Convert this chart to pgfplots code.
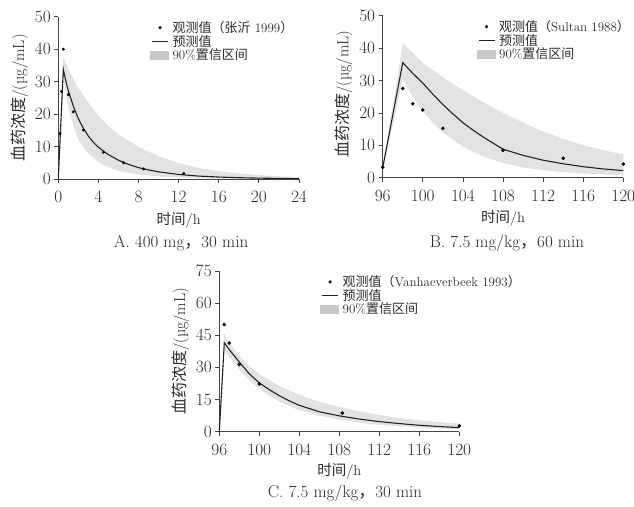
\documentclass[border=0pt]{standalone}
\usepackage{fontspec}
\usepackage{pgfplots}
\usepackage{pgfplotstable}
\pgfplotsset{compat=1.18}
\newfontfamily\cjk{Noto Sans CJK SC}
\definecolor{txt}{HTML}{2A2A2A}
\definecolor{axc}{HTML}{444444}
\definecolor{band}{HTML}{E2E2E2}
\definecolor{swatch}{HTML}{C8C8C8}
\definecolor{lin}{HTML}{222222}

\pgfplotsset{
  panel/.style={
    scale only axis,
    axis lines=left,
    axis line style={-, color=axc, line width=0.8pt},
    tick align=outside,
    major tick length=4pt,
    tick style={color=axc, line width=0.8pt},
    minor tick num=0,
    tick label style={font=\fontsize{16}{18}\selectfont, color=txt},
    xticklabel style={yshift=-5pt},
    every axis x label/.style={at={(axis description cs:0.5,0)}, anchor=center, yshift=-41pt, font=\fontsize{14.5}{16}\selectfont, color=txt},
    every axis y label/.style={at={(axis description cs:0,0.5)}, xshift=-39pt, anchor=center, rotate=90, font=\fontsize{16}{18}\selectfont, color=txt},
    xlabel={{\cjk 时间}/h},
    ylabel={{\cjk 血药浓度}/(\textmu g/mL)},
    legend cell align=left,
    legend style={draw=none, fill=none, inner sep=0pt, outer sep=0pt,
      font=\fontsize{13}{14}\selectfont, text=txt,
      nodes={inner sep=0.6pt},
      row sep=0pt},
    clip=false,
  },
  ldot/.style={legend image code/.code={\fill[black] (8pt,0pt) circle (1.4pt); \path[draw=none,fill=none] (-2pt,0pt) -- (20pt,0pt);}},
  lline/.style={legend image code/.code={\draw[line width=1.1pt, color=lin] (0pt,0pt) -- (16pt,0pt); \path[draw=none,fill=none] (-2pt,0pt) -- (20pt,0pt);}},
  lband/.style={legend image code/.code={\fill[swatch, draw=none] (-2pt,-4.5pt) rectangle (17pt,4.5pt); \path[draw=none,fill=none] (-2pt,0pt) -- (20pt,0pt);}},
}

% ---------- Panel A data ----------
\pgfplotstableread{
t c
0 0
0.5 33.8
0.75 30.2
1 27.2
1.5 22.4
2 18.6
2.5 15.6
3 13.2
3.5 11.3
4 9.8
4.5 8.6
5 7.5
6 5.8
7 4.5
8 3.5
9 2.8
10 2.2
12 1.4
14 0.9
16 0.6
18 0.4
20 0.27
22 0.18
24 0.12
}\predA
% band: upper bound forward, then lower bound backward
\pgfplotstableread{
t c
0 0
0.5 37.5
1 34
1.5 31
2 28
3 23.5
4 19.5
5 16.3
6 13.7
8 9.9
10 7.0
12 4.9
14 3.4
16 2.4
18 1.7
20 1.2
22 0.8
24 0.55
24 0.02
20 0.05
16 0.15
12 0.45
10 0.8
8 1.4
6 2.5
5 3.6
4 5.2
3 7.8
2 12
1.5 16.5
1 22
0.5 31
0 0
}\bandA
\pgfplotstableread{
t c
0.17 14
0.33 27
0.5 40
1 26
1.5 20.7
2.5 15.1
4.5 8.2
6.5 5.0
8.5 3.1
12.5 1.7
}\obsA

% ---------- Panel B data ----------
\pgfplotstableread{
t c
96 3
98 35.5
99 32.2
100 29.2
101 25.8
102 22.6
103 19.7
104 17.0
105 14.7
106 12.6
107 10.7
108 8.8
110 6.9
112 5.4
114 4.3
116 3.4
118 2.7
120 2.2
}\predB
\pgfplotstableread{
t c
96 3.8
97 22
98 41.5
99 38.5
100 35.5
102 31
104 27
106 23.3
108 20
110 17
112 14.2
114 12
116 10
118 8.5
120 7.2
120 0.8
118 1.0
116 1.3
114 1.7
112 2.3
110 3.2
108 4.5
106 6.6
104 9.6
102 14
101 17
100 20.5
99 25
98 30.5
97 16
96 2.5
}\bandB
\pgfplotstableread{
t c
96 3.2
98 27.5
99 22.8
100 20.9
102 15.2
108 8.5
114 6.0
120 4.2
}\obsB

% ---------- Panel C data ----------
\pgfplotstableread{
t c
96 0
96.5 41.5
97 38.3
98 32.5
99 27
100 22.8
101 19.6
102 16.8
103 14.4
104 12.3
106 9.3
108 7.4
110 5.9
112 4.7
114 3.8
116 3.0
118 2.4
120 1.9
}\predC
\pgfplotstableread{
t c
96 0
96.5 46
97 41.5
98 35.5
99 30.5
100 26.8
102 21.5
104 17.2
106 14
108 11.6
110 9.5
112 7.8
114 6.4
116 5.3
118 4.5
120 3.8
120 1.2
118 1.5
116 1.9
114 2.5
112 3.2
110 4.2
108 5.6
106 7.5
104 10
102 14
100 20
99 24
98 29
97 35
96.5 38
96 0
}\bandC
\pgfplotstableread{
t c
96.5 50
97 41.4
98 31.4
100 22.3
108.3 8.7
120 2.7
}\obsC

\begin{document}
\begin{tikzpicture}
\path[use as bounding box] (0pt,0pt) rectangle (634pt,-506pt);

% ---------------- Panel A ----------------
\begin{axis}[panel,
  at={(58.3pt,-179pt)}, anchor=south west,
  width=240.7pt, height=162.3pt,
  xmin=0, xmax=24, ymin=0, ymax=50,
  xtick={0,4,...,24}, ytick={0,10,...,50},
  legend style={at={(axis description cs:0.381,0.975)}, anchor=north west},
]
\addlegendimage{ldot}
\addlegendentry{{\cjk 观测值（张沂} 1999{\cjk ）}}
\addlegendimage{lline}
\addlegendentry{{\cjk 预测值}}
\addlegendimage{lband}
\addlegendentry{90\%{\cjk 置信区间}}
\addplot[fill=band, draw=none, forget plot] table[x=t,y=c] {\bandA};
\addplot[lin, line width=1.1pt, forget plot] table[x=t,y=c] {\predA};
\addplot[only marks, mark=*, mark size=1.3pt, black, forget plot] table[x=t,y=c] {\obsA};
\end{axis}
\node[font=\fontsize{17}{19}\selectfont, text=txt] at (181pt,-243pt) {A. 400 mg{\cjk ，}30 min};

% ---------------- Panel B ----------------
\begin{axis}[panel,
  at={(382.7pt,-177.7pt)}, anchor=south west,
  width=240.6pt, height=162pt,
  xmin=96, xmax=120, ymin=0, ymax=50,
  xtick={96,100,...,120}, ytick={0,10,...,50},
  every axis y label/.append style={xshift=2.5pt},
  legend style={at={(axis description cs:0.39,0.975)}, anchor=north west},
]
\addlegendimage{ldot}
\addlegendentry{{\cjk 观测值（}Sultan 1988{\cjk ）}}
\addlegendimage{lline}
\addlegendentry{{\cjk 预测值}}
\addlegendimage{lband}
\addlegendentry{90\%{\cjk 置信区间}}
\addplot[fill=band, draw=none, forget plot] table[x=t,y=c] {\bandB};
\addplot[lin, line width=1.1pt, forget plot] table[x=t,y=c] {\predB};
\addplot[only marks, mark=*, mark size=1.6pt, black, forget plot] table[x=t,y=c] {\obsB};
\end{axis}
\node[font=\fontsize{17}{19}\selectfont, text=txt] at (507pt,-243pt) {B. 7.5 mg/kg{\cjk ，}60 min};

% ---------------- Panel C ----------------
\begin{axis}[panel,
  at={(219.3pt,-431.7pt)}, anchor=south west,
  width=240pt, height=160.7pt,
  xmin=96, xmax=120, ymin=0, ymax=75,
  xtick={96,100,...,120}, ytick={0,15,...,75},
  every axis x label/.append style={yshift=1pt},
  legend style={at={(axis description cs:0.42,0.975)}, anchor=north west},
]
\addlegendimage{ldot}
\addlegendentry{{\cjk 观测值（}Vanhaeverbeek 1993{\cjk ）}}
\addlegendimage{lline}
\addlegendentry{{\cjk 预测值}}
\addlegendimage{lband}
\addlegendentry{90\%{\cjk 置信区间}}
\addplot[fill=band, draw=none, forget plot] table[x=t,y=c] {\bandC};
\addplot[lin, line width=1.1pt, forget plot] table[x=t,y=c] {\predC};
\addplot[only marks, mark=*, mark size=1.6pt, black, forget plot] table[x=t,y=c] {\obsC};
\end{axis}
\node[font=\fontsize{17}{19}\selectfont, text=txt] at (345pt,-493pt) {C. 7.5 mg/kg{\cjk ，}30 min};
\end{tikzpicture}
\end{document}
